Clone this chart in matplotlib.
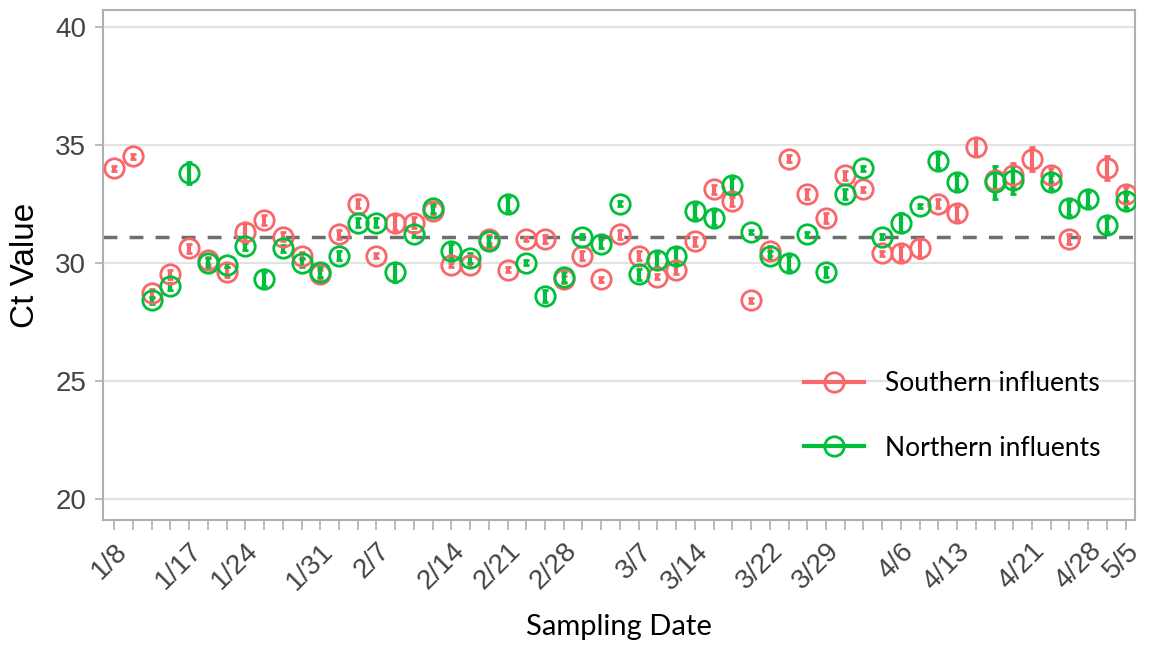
import numpy as np
import matplotlib
matplotlib.use("Agg")
import matplotlib.pyplot as plt
from matplotlib.lines import Line2D

n = 55
label_idx = [0, 4, 7, 11, 14, 18, 21, 24, 28, 31, 35, 38, 42, 45, 49, 52, 54]
labels = ["1/8", "1/17", "1/24", "1/31", "2/7", "2/14", "2/21", "2/28", "3/7", "3/14",
          "3/22", "3/29", "4/6", "4/13", "4/21", "4/28", "5/5"]
nan = np.nan
south = [34.0, 34.5, 28.7, 29.5, 30.6, 30.1, 29.6, 31.3, 31.8, 31.1, 30.3, 29.5, 31.2, 32.5, 30.3,
         31.7, 31.7, 32.2, 29.9, 29.9, 31.0, 29.7, 31.0, 31.0, 29.3, 30.3, 29.3, 31.2, 30.3, 29.4,
         29.7, 30.9, 33.1, 32.6, 28.4, 30.5, 34.4, 32.9, 31.9, 33.7, 33.1, 30.4, 30.4, 30.6, 32.5,
         32.1, 34.9, 33.5, 33.7, 34.4, 33.7, 31.0, nan, 34.0, 32.9]
south_err = [0.1, 0.1, 0.2, 0.2, 0.2, 0.15, 0.2, 0.4, 0.2, 0.2, 0.15, 0.2, 0.2, 0.2, 0.1,
             0.3, 0.25, 0.2, 0.1, 0.1, 0.15, 0.1, 0.1, 0.15, 0.15, 0.2, 0.1, 0.2, 0.2, 0.1,
             0.2, 0.2, 0.2, 0.2, 0.1, 0.2, 0.15, 0.2, 0.2, 0.2, 0.1, 0.1, 0.3, 0.4, 0.2,
             0.3, 0.4, 0.4, 0.5, 0.5, 0.3, 0.2, nan, 0.5, 0.3]
north = [nan, nan, 28.4, 29.0, 33.8, 30.0, 29.9, 30.7, 29.3, 30.6, 30.0, 29.6, 30.3, 31.7, 31.7,
         29.6, 31.2, 32.3, 30.5, 30.2, 30.9, 32.5, 30.0, 28.6, 29.4, 31.1, 30.8, 32.5, 29.5, 30.1,
         30.3, 32.2, 31.9, 33.3, 31.3, 30.3, 30.0, 31.2, 29.6, 32.9, 34.0, 31.1, 31.7, 32.4, 34.3,
         33.4, nan, 33.4, 33.5, nan, 33.4, 32.3, 32.7, 31.6, 32.6]
north_err = [nan, nan, 0.15, 0.15, 0.45, 0.2, 0.1, 0.15, 0.3, 0.15, 0.2, 0.2, 0.2, 0.2, 0.2,
             0.4, 0.1, 0.2, 0.3, 0.2, 0.2, 0.3, 0.1, 0.25, 0.2, 0.1, 0.2, 0.1, 0.25, 0.3,
             0.3, 0.3, 0.3, 0.3, 0.1, 0.2, 0.3, 0.1, 0.2, 0.2, 0.1, 0.1, 0.4, 0.1, 0.3,
             0.3, nan, 0.7, 0.6, nan, 0.3, 0.3, 0.3, 0.3, 0.3]
ref_line = 31.1

red = "#F8686B"
green = "#00BF3A"

fig = plt.figure(figsize=(11.56, 6.51), dpi=100)
ax = fig.add_axes([103/1156, 1-520/651, (1135-103)/1156, (520-10)/651])
x = np.arange(n)
ax.axhline(ref_line, color="#6e6e6e", lw=2.5, ls=(0, (4, 3.5)), zorder=1)
for vals, errs, c in [(south, south_err, red), (north, north_err, green)]:
    ax.errorbar(x, vals, yerr=errs, fmt="o", ms=14, mfc="none", mec=c, mew=2,
                ecolor=c, elinewidth=3, capsize=2, capthick=3, zorder=3)
ax.set_xlim(-0.6, n - 0.5)
ax.set_ylim(19.1, 40.7)
ax.set_yticks([20, 25, 30, 35, 40])
ax.grid(axis="y", color="#e3e3e3", lw=1.5)
ax.set_axisbelow(True)
ax.set_xticks(x, minor=True)
ax.set_xticks(label_idx)
ax.set_xticklabels(labels, rotation=45, ha="right", rotation_mode="anchor")
ax.tick_params(axis="x", which="both", length=7, color="#b0b0b0", width=1.2, pad=6)
ax.tick_params(axis="y", length=6, color="#b0b0b0", width=1.2, pad=6)
for lab in ax.get_xticklabels() + ax.get_yticklabels():
    lab.set_fontfamily("Liberation Sans")
    lab.set_fontsize(20)
    lab.set_color("#444444")
for s in ax.spines.values():
    s.set_color("#b0b0b0")
    s.set_linewidth(1.5)
ax.set_xlabel("Sampling Date", fontsize=21, labelpad=14, family="Lato")
ax.set_ylabel("Ct Value", fontsize=24, family="Liberation Sans", labelpad=10)
handles = [Line2D([], [], color=red, lw=3, marker="o", ms=14, mfc="none", mew=2),
           Line2D([], [], color=green, lw=3, marker="o", ms=14, mfc="none", mew=2)]
ax.legend(handles, ["Southern influents", "Northern influents"], loc="lower right",
          bbox_to_anchor=(0.99, 0.07), frameon=False, prop={"family": "Lato", "size": 19},
          handlelength=2.3, labelspacing=1.5)
fig.savefig("out.png", dpi=100)
